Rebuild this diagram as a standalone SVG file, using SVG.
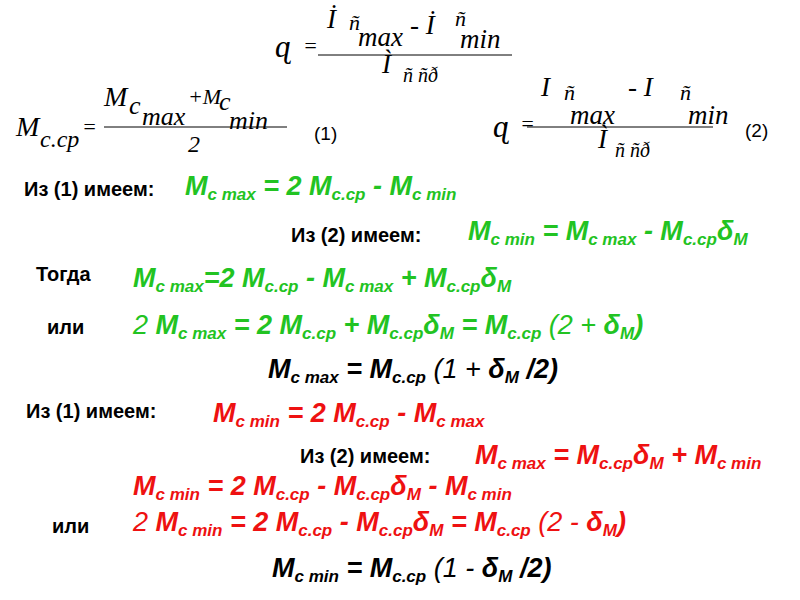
<svg xmlns="http://www.w3.org/2000/svg" width="800" height="600" viewBox="0 0 800 600" xml:space="preserve">
<style>
.s{font-family:"Liberation Serif",serif;font-style:italic;fill:#000}
.b{font-family:"Liberation Sans Narrow","Liberation Sans",sans-serif;font-weight:bold;font-size:20px;fill:#000}
.f{font-family:"Liberation Sans Narrow","Liberation Sans",sans-serif;font-weight:bold;font-style:italic;font-size:27px}
.n{font-weight:normal}
.sub{font-size:17px}
.g{fill:#22c322}.r{fill:#ee1111}.k{fill:#000}
line{stroke:#000;stroke-width:1}
</style>
<rect width="800" height="600" fill="#fff"/>
<g id="formula-delta-top" class="s">
<text x="275" y="57" font-size="32">ɋ</text>
<text x="303" y="53" font-size="22">=</text>
<text x="327" y="28" font-size="27">İ</text>
<text x="349" y="30" font-size="22">ñ</text>
<text x="358" y="46" font-size="27">max</text>
<text x="410" y="34" font-size="27">- İ</text>
<text x="455" y="26" font-size="22">ñ</text>
<text x="460" y="48" font-size="27">min</text>
<line x1="318" y1="55" x2="512" y2="55"/>
<text x="382" y="73" font-size="27">Ì</text>
<text x="403" y="82" font-size="20">ñ ñð</text>
</g>
<g id="formula-1" class="s">
<text x="16" y="136" font-size="28">M</text>
<text x="40" y="147" font-size="24">c.cp</text>
<text x="82" y="134" font-size="22">=</text>
<text x="104" y="106" font-size="28">M</text>
<text x="129" y="114" font-size="26">c</text>
<text x="142" y="125" font-size="26">max</text>
<text x="188" y="104" font-size="22">+M</text>
<text x="219" y="110" font-size="26">c</text>
<text x="229" y="129" font-size="26">min</text>
<line x1="104" y1="127" x2="287" y2="127"/>
<text x="188" y="152" font-size="24">2</text>
</g>
<text id="label-1" x="314" y="140" font-family="Liberation Sans Narrow,Liberation Sans,sans-serif" font-size="19">(1)</text>
<g id="formula-2" class="s">
<text x="493" y="137" font-size="32">ɋ</text>
<text x="520" y="131" font-size="22">=</text>
<text x="541" y="96" font-size="27">I</text>
<text x="564" y="100" font-size="22">ñ</text>
<text x="570" y="124" font-size="27">max</text>
<text x="628" y="96" font-size="27">- I</text>
<text x="680" y="100" font-size="22">ñ</text>
<text x="688" y="124" font-size="27">min</text>
<line x1="527" y1="127" x2="713" y2="127"/>
<text x="598" y="148" font-size="27">Ì</text>
<text x="615" y="157" font-size="20">ñ ñð</text>
</g>
<text id="label-2" x="745" y="137" font-family="Liberation Sans Narrow,Liberation Sans,sans-serif" font-size="19">(2)</text>

<g id="line1"><text class="b" x="24" y="196">Из (1) имеем:</text>
<text class="f g" x="185" y="195">M<tspan class="sub" dy="5">c max</tspan><tspan dy="-5"> = 2 M</tspan><tspan class="sub" dy="5">c.cp</tspan><tspan dy="-5">  - M</tspan><tspan class="sub" dy="5">c min</tspan></text></g>
<g id="line2"><text class="b" x="291" y="242">Из (2) имеем:</text>
<text class="f g" x="468" y="240">M<tspan class="sub" dy="5">c min</tspan><tspan dy="-5"> = M</tspan><tspan class="sub" dy="5">c max</tspan><tspan dy="-5"> - M</tspan><tspan class="sub" dy="5">c.cp</tspan><tspan dy="-5">δ</tspan><tspan class="sub" dy="5">M</tspan></text></g>
<g id="line3"><text class="b" x="36" y="281">Тогда</text>
<text class="f g" x="133" y="287">M<tspan class="sub" dy="5">c max</tspan><tspan dy="-5">=2 M</tspan><tspan class="sub" dy="5">c.cp</tspan><tspan dy="-5">  - M</tspan><tspan class="sub" dy="5">c max</tspan><tspan dy="-5"> + M</tspan><tspan class="sub" dy="5">c.cp</tspan><tspan dy="-5">δ</tspan><tspan class="sub" dy="5">M</tspan></text></g>
<g id="line4"><text class="b" x="47" y="334">или</text>
<text class="f g" x="133" y="334"><tspan class="n">2 </tspan>M<tspan class="sub" dy="5">c max</tspan><tspan dy="-5"> = 2 M</tspan><tspan class="sub" dy="5">c.cp</tspan><tspan dy="-5">  + M</tspan><tspan class="sub" dy="5">c.cp</tspan><tspan dy="-5">δ</tspan><tspan class="sub" dy="5">M</tspan><tspan dy="-5"> = M</tspan><tspan class="sub" dy="5">c.cp</tspan><tspan dy="-5" class="n">  (2 + </tspan>δ<tspan class="sub" dy="5">M</tspan><tspan dy="-5">)</tspan></text></g>
<g id="line5"><text class="f k" x="268" y="378">M<tspan class="sub" dy="5">c max</tspan><tspan dy="-5"> = M</tspan><tspan class="sub" dy="5">c.cp</tspan><tspan dy="-5" class="n">  (1 + </tspan>δ<tspan class="sub" dy="5">M</tspan><tspan dy="-5"> /2)</tspan></text></g>
<g id="line6"><text class="b" x="26" y="418">Из (1) имеем:</text>
<text class="f r" x="213" y="422">M<tspan class="sub" dy="5">c min</tspan><tspan dy="-5"> = 2 M</tspan><tspan class="sub" dy="5">c.cp</tspan><tspan dy="-5">  - M</tspan><tspan class="sub" dy="5">c max</tspan></text></g>
<g id="line7"><text class="b" x="300" y="463">Из (2) имеем:</text>
<text class="f r" x="475" y="464">M<tspan class="sub" dy="5">c max</tspan><tspan dy="-5"> = M</tspan><tspan class="sub" dy="5">c.cp</tspan><tspan dy="-5">δ</tspan><tspan class="sub" dy="5">M</tspan><tspan dy="-5"> + M</tspan><tspan class="sub" dy="5">c min</tspan></text></g>
<g id="line8"><text class="f r" x="133" y="495">M<tspan class="sub" dy="5">c min</tspan><tspan dy="-5"> = 2 M</tspan><tspan class="sub" dy="5">c.cp</tspan><tspan dy="-5">  - M</tspan><tspan class="sub" dy="5">c.cp</tspan><tspan dy="-5">δ</tspan><tspan class="sub" dy="5">M</tspan><tspan dy="-5"> - M</tspan><tspan class="sub" dy="5">c min</tspan></text></g>
<g id="line9"><text class="b" x="52" y="533">или</text>
<text class="f r" x="133" y="531"><tspan class="n">2 </tspan>M<tspan class="sub" dy="5">c min</tspan><tspan dy="-5"> = 2 M</tspan><tspan class="sub" dy="5">c.cp</tspan><tspan dy="-5">  - M</tspan><tspan class="sub" dy="5">c.cp</tspan><tspan dy="-5">δ</tspan><tspan class="sub" dy="5">M</tspan><tspan dy="-5"> = M</tspan><tspan class="sub" dy="5">c.cp</tspan><tspan dy="-5" class="n">  (2 - </tspan>δ<tspan class="sub" dy="5">M</tspan><tspan dy="-5">)</tspan></text></g>
<g id="line10"><text class="f k" x="272" y="577">M<tspan class="sub" dy="5">c min</tspan><tspan dy="-5"> = M</tspan><tspan class="sub" dy="5">c.cp</tspan><tspan dy="-5" class="n">  (1 - </tspan>δ<tspan class="sub" dy="5">M</tspan><tspan dy="-5"> /2)</tspan></text></g>
</svg>
